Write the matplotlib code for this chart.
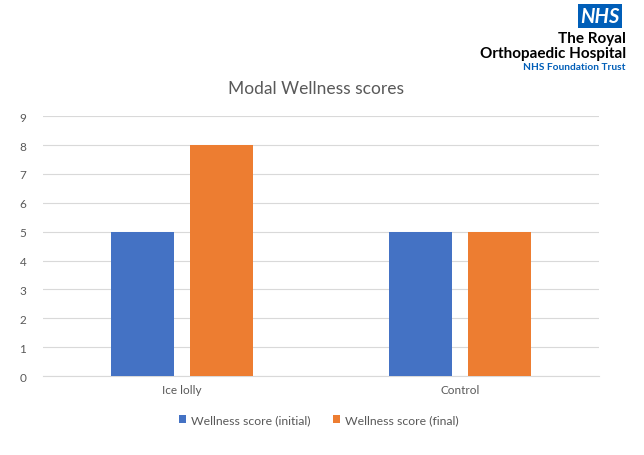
import matplotlib
matplotlib.use("Agg")
import matplotlib.pyplot as plt
import numpy as np

plt.rcParams['font.family'] = ['Lato', 'DejaVu Sans']

categories = ["Ice lolly", "Control"]
initial = [5, 5]
final = [8, 5]
series_names = ["Wellness score (initial)", "Wellness score (final)"]
colors = ["#4472C4", "#ED7D31"]
grey = "#595959"

fig = plt.figure(figsize=(6.44, 4.56), dpi=100)
ax = fig.add_axes([0.0668, 0.173, 0.8634, 0.57])

x = np.arange(len(categories))
w = 0.227
ax.bar(x - 0.142, initial, w, color=colors[0], label=series_names[0], zorder=3)
ax.bar(x + 0.142, final, w, color=colors[1], label=series_names[1], zorder=3)

ax.set_xlim(-0.5, 1.5)
ax.set_ylim(0, 9)
ax.set_yticks(range(0, 10))
ax.set_xticks(x)
ax.set_xticklabels(categories)
ax.grid(axis='y', color="#D9D9D9", linewidth=0.8, zorder=0)
for s in ["top", "right", "left"]:
    ax.spines[s].set_visible(False)
ax.spines["bottom"].set_color("#D9D9D9")
ax.tick_params(length=0, colors=grey, labelsize=8.5)
ax.tick_params(axis='y', pad=12)
ax.tick_params(axis='x', pad=6)

fig.text(0.49, 0.805, "Modal Wellness scores", ha='center', va='center',
         fontsize=12.5, color=grey)

fig.legend(loc='center', bbox_to_anchor=(0.495, 0.077), ncol=2, frameon=False,
           fontsize=8.8, handlelength=0.6, handleheight=0.6, columnspacing=1.8,
           handletextpad=0.4, labelcolor=grey)

# logo
fig.text(0.962, 0.962, "NHS", ha='right', va='center', fontsize=14.5, color='white',
         fontweight='bold', style='italic',
         bbox=dict(boxstyle='square,pad=0.1', fc='#005EB8', ec='none'))
fig.text(0.972, 0.914, "The Royal", ha='right', va='center', fontsize=11,
         fontweight='bold', color='black')
fig.text(0.972, 0.882, "Orthopaedic Hospital", ha='right', va='center', fontsize=11,
         fontweight='bold', color='black')
fig.text(0.972, 0.852, "NHS Foundation Trust", ha='right', va='center', fontsize=7.3,
         fontweight='bold', color='#005EB8')

fig.savefig("out.png", dpi=100)
